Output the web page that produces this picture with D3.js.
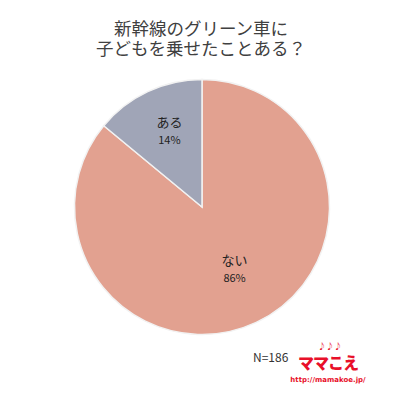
<!DOCTYPE html>
<html><head><meta charset="utf-8">
<script src="https://cdn.jsdelivr.net/npm/d3@7"></script>
<style>body{margin:0;background:#fff}svg{display:block}</style>
</head><body>
<svg id="c" width="400" height="400"></svg>
<script>
const titleLines = ["新幹線のグリーン車に", "子どもを乗せたことある？"];
const categories = ["ない", "ある"];
const values = [86, 14];
const colors = ["#E2A190", "#A0A5B7"];
const sampleNote = "N=186";

const svg = d3.select("#c");
const font = "'Noto Sans CJK JP', 'Noto Sans', sans-serif";

svg.append("rect").attr("width",400).attr("height",400).attr("fill","#fff");

svg.append("g").selectAll("text").data(titleLines).join("text")
  .attr("x", 201).attr("y", (d,i)=>35+i*20)
  .attr("text-anchor","middle").attr("font-family",font).attr("font-size",17.5)
  .attr("fill","#404040").text(d=>d);

const cx=202, cy=207, R=127.5;
const data = categories.map((c,i)=>({cat:c, value:values[i], color:colors[i]}));
const pie = d3.pie().value(d=>d.value).sort(null);
const arcs = pie(data);
const arc = d3.arc().innerRadius(0).outerRadius(R);
const labelArc = d3.arc().innerRadius(0).outerRadius(153);

const g = svg.append("g").attr("transform",`translate(${cx},${cy})`);
g.selectAll("path").data(arcs).join("path")
  .attr("d",arc).attr("fill",d=>d.data.color)
  .attr("stroke","#f2f2f2").attr("stroke-width",1.5);

const lab = g.selectAll("g.lab").data(arcs).join("g").attr("class","lab")
  .attr("transform",d=>{const [x,y]=labelArc.centroid(d); return `translate(${x},${y})`;});
lab.append("text").attr("text-anchor","middle").attr("y",-11)
  .attr("font-family",font).attr("font-size",13).attr("fill","#222")
  .text(d=>d.data.cat);
lab.append("text").attr("text-anchor","middle").attr("y",6)
  .attr("font-family",font).attr("font-size",11).attr("fill","#222")
  .text(d=>Math.round(d.data.value)+"%");

svg.append("text").attr("x",253).attr("y",362)
  .attr("font-family",font).attr("font-size",12).attr("fill","#333").text(sampleNote);

// logo
svg.append("text").attr("x",330).attr("y",349).attr("text-anchor","middle")
  .attr("font-family",font).attr("font-size",8).attr("font-weight","bold").attr("fill","#e8102a").text("♪♪♪");
svg.append("text").attr("x",328).attr("y",369).attr("text-anchor","middle")
  .attr("font-family",font).attr("font-size",16).attr("font-weight","900").attr("fill","#e8102a")
  .attr("letter-spacing",-1).text("ママこえ");
svg.append("text").attr("x",328).attr("y",382).attr("text-anchor","middle")
  .attr("font-family","'DejaVu Sans', sans-serif").attr("font-size",7).attr("font-weight","bold").attr("fill","#e8102a")
  .text("http://mamakoe.jp/");
</script>
</body></html>
